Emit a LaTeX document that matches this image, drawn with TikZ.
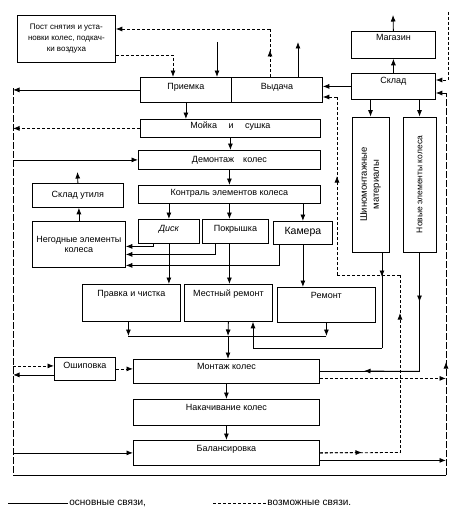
\documentclass[tikz,border=0pt]{standalone}
\usepackage{fontspec}
\setmainfont{Liberation Sans}
\usepackage{tikz}
\usetikzlibrary{arrows.meta,calc,positioning}

\tikzset{
  blocco/.style={draw, inner sep=2pt, font=\fontsize{9}{10.5}\selectfont},
  riga/.style={text height=7pt, text depth=#1},
  riga/.default=2pt,
  tratt/.style={dash pattern=on 3pt off 2pt},
  bus/.style={dash pattern=on 7pt off 2pt}
}

\begin{document}
\begin{tikzpicture}[x=1pt, y=-1pt, line width=0.8pt, >={Latex[length=6.5pt,width=5pt]}]
\useasboundingbox (0,0) rectangle (456,527);
% Blocchi in alto
\node[blocco, align=center, font=\fontsize{8}{11}\selectfont, minimum width=98pt, minimum height=47pt, anchor=north west] (post) at (17,15) {Пост снятия и уста-\\новки колес, подкач-\\ки воздуха};
\node[blocco, riga=7pt, minimum width=91pt, minimum height=25pt, anchor=north west] (priemka) at (140,77) {Приемка};
\node[blocco, riga=7pt, minimum width=91pt, minimum height=25pt, anchor=north west] (vydacha) at (231,77) {Выдача};
\node[blocco, riga=16pt, minimum width=84pt, minimum height=27pt, anchor=north west] (magazin) at (351,31) {Магазин};
\node[blocco, riga=13pt, minimum width=84pt, minimum height=26pt, anchor=north west] (sklad) at (351,73) {Склад};
\node[blocco, align=center, font=\fontsize{9.5}{12}\selectfont, rotate=90, minimum width=135pt, minimum height=37pt] (shinom) at (370.5,184.5) {Шиномонтажные\\материалы};
\node[blocco, rotate=90, font=\fontsize{8.5}{10}\selectfont, minimum width=135pt, minimum height=33pt] (novye) at (419.5,184.5) {Новые элементы колеса};
% Linea centrale
\node[blocco, riga=7pt, minimum width=180pt, minimum height=18pt, anchor=north west] (moika) at (140,119) {Мойка\quad\ и\quad\ сушка};
\node[blocco, riga, minimum width=182pt, minimum height=19pt, anchor=north west] (demontazh) at (138,150) {Демонтаж\quad колес};
\node[blocco, riga=5pt, minimum width=182pt, minimum height=18pt, anchor=north west] (kontrol) at (138,185) {Контраль элементов колеса};
\node[blocco, riga=7pt, minimum width=61pt, minimum height=24pt, anchor=north west] (disk) at (138,219) {\itshape Диск};
\node[blocco, riga=7pt, minimum width=66pt, minimum height=24pt, anchor=north west] (pokr) at (202,219) {Покрышка};
\node[blocco, riga=4pt, font=\fontsize{10.5}{12}\selectfont, minimum width=59pt, minimum height=23pt, anchor=north west] (kamera) at (273,221) {Камера};
\node[blocco, riga, minimum width=91pt, minimum height=24pt, anchor=north west] (skladut) at (32,183) {Склад утиля};
\node[blocco, align=center, minimum width=93pt, minimum height=46pt, anchor=north west] (negodnye) at (32,221) {Негодные элементы\\колеса};
\node[blocco, riga=19pt, minimum width=98pt, minimum height=37pt, anchor=north west] (pravka) at (82,284) {Правка и чистка};
\node[blocco, riga=19pt, minimum width=88pt, minimum height=37pt, anchor=north west] (mestny) at (184,284) {Местный ремонт};
\node[blocco, riga=20pt, minimum width=98pt, minimum height=35pt, anchor=north west] (remont) at (277,287) {Ремонт};
\node[blocco, riga=8pt, minimum width=61pt, minimum height=23pt, anchor=north west] (oship) at (54,357) {Ошиповка};
\node[blocco, riga=10pt, minimum width=186pt, minimum height=24pt, anchor=north west] (montazh) at (133,359) {Монтаж колес};
\node[blocco, riga=10pt, minimum width=186pt, minimum height=26pt, anchor=north west] (nakach) at (133,399) {Накачивание колес};
\node[blocco, riga=10pt, minimum width=186pt, minimum height=25pt, anchor=north west] (bal) at (133,440) {Балансировка};
% Punti di riferimento
\coordinate (ingresso) at (217,42);
\coordinate (uscita) at (298,42);
\coordinate (vendita) at (393,15);
\coordinate (rottame) at (77.5,172);
\coordinate (fornitura) at (448,12);
\coordinate (fo) at (448,80);
\coordinate (vp) at (270,29);
\coordinate (vpM) at (270,50);
\coordinate (pp) at (173,55);
\coordinate (sxA) at (13,88);
\coordinate (sxB) at (13,475);
\coordinate (dxB) at (446,475);
\coordinate (dxM) at (446,362);
\coordinate (dxA) at (446,93);
\coordinate (ritA) at (400,452.5);
\coordinate (ritAM) at (362,452.5);
\coordinate (ritB) at (400,275);
\coordinate (ritBM) at (400,313);
\coordinate (ritC) at (337,275);
\coordinate (ritCM) at (337,176);
\coordinate (ritD) at (337,97);
\coordinate (smA) at ([xshift=11.5pt]shinom.west);
\coordinate (smM) at (382,277);
\coordinate (smB) at (382,348);
\coordinate (smC) at (253,348);
\coordinate (nvM) at (419.5,302);
\coordinate (nvK) at (364,371);
\coordinate (raccordo) at (228,336);
\coordinate (pvOut) at ([xshift=-3pt]pravka.south);
\coordinate (dn) at ([xshift=-15.5pt]disk.south);
\coordinate (pn) at ([xshift=-20pt]pokr.south);
\coordinate (kn) at ([xshift=-24pt]kamera.south);
\coordinate (osIn) at ([yshift=3pt]oship.west);
\coordinate (osOut) at ([yshift=-6pt]oship.west);
\coordinate (mtOut) at ([yshift=-7pt]montazh.east);
\coordinate (blOut) at ([yshift=-7.5pt]bal.east);
% Ingresso e uscite
\draw[->] (ingresso) -- (ingresso |- priemka.north);
\draw[->] (uscita |- vydacha.north) -- (uscita);
\draw[->] (magazin.north) -- (vendita);
\draw[->] (sklad.north) -- (magazin.south);
\draw[->] (sklad.west) -- (sklad.west -| vydacha.east);
\draw[tratt,->] (fornitura) -- (fo) -- (fo -| sklad.east);
\draw[tratt,->] (pp -| post.east) -- (pp) -- (pp |- priemka.north);
\draw[tratt] (vp |- vydacha.north) -- (vp);
\draw[tratt,->] (vp |- vydacha.north) -- (vpM);
\draw[tratt,->] (vp) -- (vp -| post.east);
\draw[->] (shinom |- sklad.south) -- (shinom.east);
\draw[->] (novye |- sklad.south) -- (novye.east);
% Flusso principale
\draw[->] (priemka.south) -- (priemka.south |- moika.north);
\draw[->] (moika.south) -- (moika.south |- demontazh.north);
\draw[->] (demontazh.south) -- (kontrol.north);
\draw[->] (disk |- kontrol.south) -- (disk.north);
\draw[->] (kontrol.south) -- (kontrol.south |- pokr.north);
\draw[->] (kamera |- kontrol.south) -- (kamera.north);
\draw[->] (disk.south) -- (disk.south |- pravka.north);
\draw[->] (kontrol.south |- pokr.south) -- (kontrol.south |- mestny.north);
\draw[->] (kamera.south) -- (kamera.south |- remont.north);
% Scarti
\draw[->] (dn) |- ([yshift=-2pt]negodnye.east);
\draw[->] (pn) |- ([yshift=-10pt]negodnye.east);
\draw[->] (kn) |- ([yshift=-21pt]negodnye.east);
\draw[->] (negodnye.north) -- (negodnye.north |- skladut.south);
\draw[->] (skladut.north) -- (rottame);
% Riparazioni e montaggio
\draw[->] (pvOut) -- (pvOut |- raccordo);
\draw (pvOut |- raccordo) -- (raccordo);
\draw[->] (remont.south) -- (remont.south |- raccordo);
\draw (remont.south |- raccordo) -- (raccordo);
\draw[->] (mestny.south) -- (raccordo);
\draw[->] (raccordo) -- (raccordo |- montazh.north);
\draw (smA) -- (smB);
\draw[->] (smA) -- (smM);
\draw[->] (smB) -- (smC) -- (smC |- mestny.south);
\draw (novye.west) |- (montazh.east);
\draw[->] (novye.west) -- (nvM);
\draw[->] (novye.west |- montazh.east) -- (nvK);
\draw[->] (montazh.south) -- (nakach.north);
\draw[->] (nakach.south) -- (bal.north);
\draw[tratt,->] (oship.east) -- (oship.east -| montazh.west);
% Ritorno a Vydacha
\draw[tratt] (bal.east) -- (ritA);
\draw[tratt,->] (bal.east) -- (ritAM);
\draw[tratt] (ritA) -- (ritB);
\draw[tratt,->] (ritA) -- (ritBM);
\draw[tratt] (ritB) -- (ritC);
\draw[tratt] (ritC) -- (ritD);
\draw[tratt,->] (ritC) -- (ritCM);
\draw[tratt,->] (ritD) -- (ritD -| vydacha.east);
% Linee laterali
\draw[bus] (sxA) -- (sxB);
\draw (sxB) -- (dxB);
\draw[bus] (dxB) -- (dxA);
\draw[bus,->] (dxB) -- (dxM);
\draw[->] (dxA) -- (dxA -| sklad.east);
\draw[->] (priemka.west) -- (priemka.west -| sxA);
\draw[tratt,->] (moika.west) -- (moika.west -| sxA);
\draw[->] (demontazh.west -| sxA) -- (demontazh.west);
\draw[tratt,->] (osIn -| sxA) -- (osIn);
\draw[->] (osOut) -- (osOut -| sxA);
\draw[->] (bal.west -| sxA) -- (bal.west);
\draw[tratt,->] (mtOut) -- (mtOut -| dxB);
\draw[->] (blOut) -- (blOut -| dxB);
% Legenda
\coordinate (lgA) at (8,503);
\coordinate (lgB) at (213,503);
\node[anchor=west, inner sep=1pt, font=\fontsize{10}{12}\selectfont] (lgT1) at (68,503) {основные связи,};
\node[anchor=west, inner sep=1pt, font=\fontsize{10}{12}\selectfont] (lgT2) at (266,503) {возможные связи.};
\draw (lgA) -- (lgT1.west);
\draw[tratt] (lgB) -- (lgT2.west);
\end{tikzpicture}
\end{document}
